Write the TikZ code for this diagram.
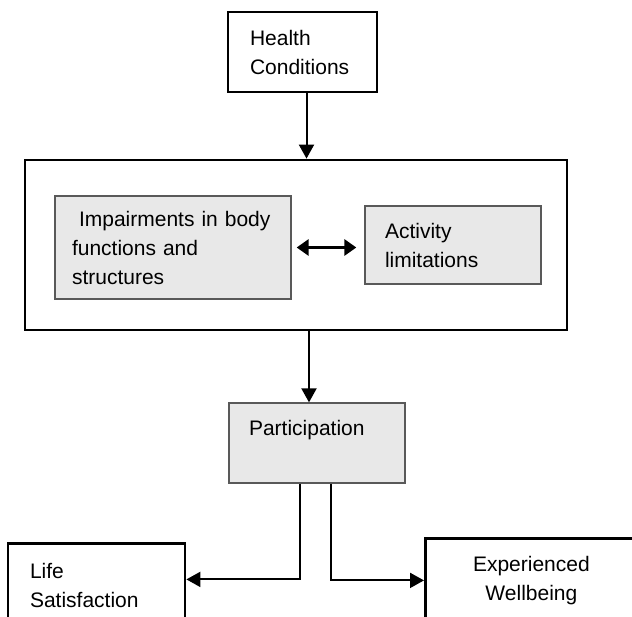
\documentclass[tikz,border=0pt]{standalone}
\usepackage{fontspec}
\setmainfont{Liberation Sans}
\usetikzlibrary{positioning}
\usetikzlibrary{arrows.meta}

\begin{document}
\begin{tikzpicture}[x=1pt, y=-1pt, font=\fontsize{21}{29}\selectfont]

  \tikzstyle{frame}=[draw = black, line width = 2.8pt, inner ysep = 0pt]
  \tikzstyle{shaded}=[draw = black!65, line width = 1.3pt, fill = black!9, inner ysep = 0pt]
  \tikzstyle{connect}=[-{Triangle[length = 14pt, width = 15pt]}, line width = 2pt]
  \tikzstyle{both}=[{Triangle[length = 12pt, width = 16pt]}-{Triangle[length = 12pt, width = 16pt]}, line width = 3.8pt]

  \useasboundingbox (0,0) rectangle (632,616);
  \clip (0,0) rectangle (632,616);

  \node[frame, minimum height = 80pt, inner xsep = 22pt, text width = 105pt, align = left] (health) at (302.5,52) {Health\\Conditions};
  \node[frame, minimum width = 542pt, minimum height = 170pt] (icf) at (296,245) {};
  \node[shaded, minimum height = 103pt, inner xsep = 17pt, text width = 202pt, align = left] (impair) at (173,247.5) {\hspace*{7pt}Impairments in body\\functions and\\structures};
  \node[shaded, minimum height = 78pt, inner xsep = 20pt, text width = 136pt, align = left] (activity) at (453,245) {Activity\\limitations};
  \node[shaded, text height = 32pt, text depth = 48pt, inner xsep = 20pt, text width = 136pt, align = left] (part) at (317,443) {Participation};
  \node[frame, anchor = north, minimum height = 84pt, inner xsep = 22pt, text width = 133pt, align = left] (life) at (96.5,542) {Life\\Satisfaction};
  \node[frame, anchor = north west, minimum height = 84pt, inner xsep = 16pt, text width = 180pt, align = center] (wellbeing) at (424,537) {Experienced\\Wellbeing};

  \draw[connect] ([xshift = 4pt]health.south) -- ([xshift = 4pt]health.south |- icf.north);
  \draw[both, shorten < = 5pt, shorten > = 8pt] (impair.east) -- (impair.east -| activity.west);
  \draw[connect] ([xshift = -8pt]part.north |- icf.south) -- ([xshift = -8pt]part.north);
  \draw[connect] ([xshift = -17pt]part.south) |- ([yshift = 6pt]life.east);
  \draw[connect] ([xshift = 14pt]part.south) |- (wellbeing.west);

\end{tikzpicture}
\end{document}
